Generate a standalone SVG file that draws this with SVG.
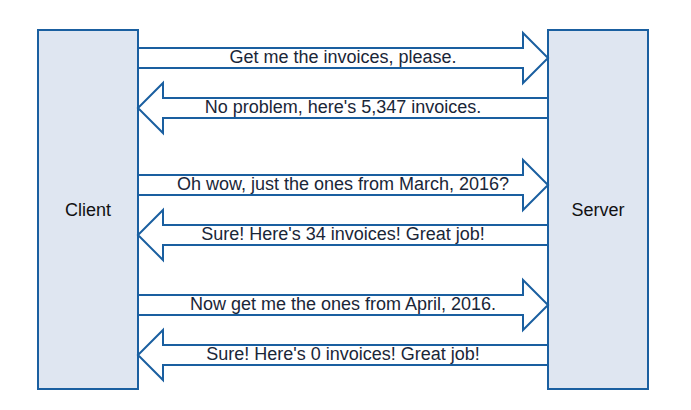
<svg xmlns="http://www.w3.org/2000/svg" width="691" height="410" viewBox="0 0 691 410">
<style>
.box{fill:#dfe6f1;stroke:#1a5fa0;stroke-width:2}
.arr{fill:#ffffff;stroke:#1a5fa0;stroke-width:2}
.lbl{font-family:"Liberation Sans",Arial,sans-serif;font-size:18px;fill:#1a2638;text-anchor:middle}
.nl{font-family:"Liberation Sans",Arial,sans-serif;font-size:18px;fill:#111111;text-anchor:middle}
</style>
<rect width="691" height="410" fill="#ffffff"/>
<g id="client">
<rect class="box" x="38" y="30" width="100" height="359"/>
<text class="nl" x="88" y="216">Client</text>
</g>
<g id="server">
<rect class="box" x="548" y="30" width="100" height="359"/>
<text class="nl" x="598" y="216">Server</text>
</g>
<g id="connectors">
<polygon class="arr" points="138,48 523,48 523,33 548,58 523,83 523,68 138,68"/>
<text class="lbl" x="343" y="63">Get me the invoices, please.</text>
<polygon class="arr" points="548,98 163,98 163,83 138,108 163,133 163,118 548,118"/>
<text class="lbl" x="343" y="113">No problem, here's 5,347 invoices.</text>
<polygon class="arr" points="138,175 523,175 523,160 548,185 523,210 523,195 138,195"/>
<text class="lbl" x="343" y="190">Oh wow, just the ones from March, 2016?</text>
<polygon class="arr" points="548,225 163,225 163,210 138,235 163,260 163,245 548,245"/>
<text class="lbl" x="343" y="240">Sure! Here's 34 invoices! Great job!</text>
<polygon class="arr" points="138,295 523,295 523,280 548,305 523,330 523,315 138,315"/>
<text class="lbl" x="343" y="310">Now get me the ones from April, 2016.</text>
<polygon class="arr" points="548,345 163,345 163,330 138,355 163,380 163,365 548,365"/>
<text class="lbl" x="343" y="360">Sure! Here's 0 invoices! Great job!</text>
</g>
</svg>
